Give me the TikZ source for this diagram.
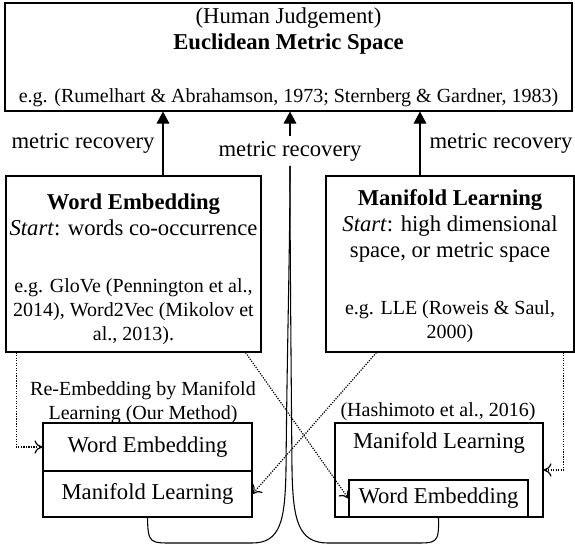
\documentclass[tikz,border=0pt]{standalone}
\usepackage{fontspec}
\setmainfont{Liberation Serif}
\usetikzlibrary{arrows.meta}
\tikzset{
  box/.style={draw, line width=0.8pt, inner sep=0pt},
  txt/.style={font=\fontsize{17pt}{19.5pt}\selectfont, align=center, inner sep=0pt},
  egtxt/.style={font=\fontsize{15pt}{18pt}\selectfont, align=center, inner sep=0pt},
  up/.style={-{Triangle[length=9pt,width=9.5pt]}, line width=0.8pt},
  dotarrow/.style={densely dotted, -{To[length=6pt,width=10pt]}, line width=0.9pt},
  curveline/.style={line width=0.8pt},
}
\begin{document}
\begin{tikzpicture}[x=0.75pt,y=0.75pt,yscale=-1,xscale=1]
\useasboundingbox (0,0) rectangle (575,544);
%Shape: Rectangle (top)
\node[box, minimum width=425.25pt, minimum height=81pt] (euc) at (288.5,57) {};
% Text Node
\node[txt] (euct) at (288.5,31) {(Human Judgement)\\\textbf{Euclidean Metric Space}};
% Text Node
\node[egtxt] (eucr) at (288.5,98) {e.g. (Rumelhart \& Abrahamson, 1973; Sternberg \& Gardner, 1983)};
%Shape: Rectangle (word embedding)
\node[box, minimum width=191.25pt, minimum height=132pt] (we) at (133.5,264) {};
% Text Node
\node[txt] (wet) at (133.5,215) {\textbf{Word Embedding}\\\textit{Start}: words co-occurrence};
% Text Node
\node[egtxt] (wer) at (133.5,312) {e.g. GloVe (Pennington et al.,\\2014), Word2Vec (Mikolov et\\al., 2013).};
%Shape: Rectangle (manifold learning)
\node[box, minimum width=186pt, minimum height=132pt] (ml) at (450,264) {};
% Text Node
\node[txt] (mlt) at (450,226) {\textbf{Manifold Learning}\\\textit{Start}: high dimensional\\space, or metric space};
% Text Node
\node[egtxt] (mlr) at (450,322) {e.g. LLE (Roweis \& Saul,\\2000)};
% Text Node
\node[txt] (mrL) at (83,143) {metric recovery};
% Text Node
\node[txt] (mrR) at (501,143) {metric recovery};
% Text Node
\node[txt, inner sep=3.5pt] (mrM) at (290,151) {metric recovery};
% Text Node
\node[egtxt] (ourl) at (143,403) {Re-Embedding by Manifold\\Learning (Our Method)};
%Shape: Rectangle (our method)
\node[box, txt, minimum width=156.75pt, minimum height=36pt] (reWE) at (147.5,447) {Word Embedding};
\node[box, txt, minimum width=156.75pt, minimum height=34.5pt] (reML) at (147.5,494) {Manifold Learning};
% Text Node
\node[egtxt] (hl) at (438,412) {(Hashimoto et al., 2016)};
%Shape: Rectangle (hashimoto)
\node[box, minimum width=156pt, minimum height=70.5pt] (hML) at (439,470) {};
\node[txt] (hMLt) at (439,443) {Manifold Learning};
\node[box, txt, minimum width=134.25pt, minimum height=27.75pt] (hWE) at (438.5,498.5) {Word Embedding};
% metric recovery arrows
\path (we.north) ++(29.5,0) coordinate (aL);
\path (ml.north) ++(-30,0) coordinate (aR);
\draw[up] (aL) -- (aL |- euc.south);
\draw[up] (aR) -- (aR |- euc.south);
\draw[up] (mrM.north) -- (mrM.north |- euc.south);
% dotted arrows
\draw[dotarrow] (we.south west) ++(11,0) |- (reWE.west);
\draw[dotarrow] (we.south east) ++(-16,0) -- (hWE.west);
\draw[dotarrow] (ml.south west) ++(51,0) -- (reML.east);
\draw[dotarrow] (ml.south east) ++(-11,0) |- (hML.east);
% curves into the middle arrow
\draw[curveline] (reML.south) .. controls (148,544) and (150,543) .. (175,543) -- (252,543) .. controls (281,543) and (285,520) .. (286,470) .. controls (287,350) and (290,250) .. (mrM.south);
\draw[curveline] (hWE.south) .. controls (439,544) and (437,543) .. (412,543) -- (328,543) .. controls (298,543) and (293,520) .. (292,470) .. controls (291,350) and (290,250) .. (mrM.south);
\end{tikzpicture}
\end{document}
